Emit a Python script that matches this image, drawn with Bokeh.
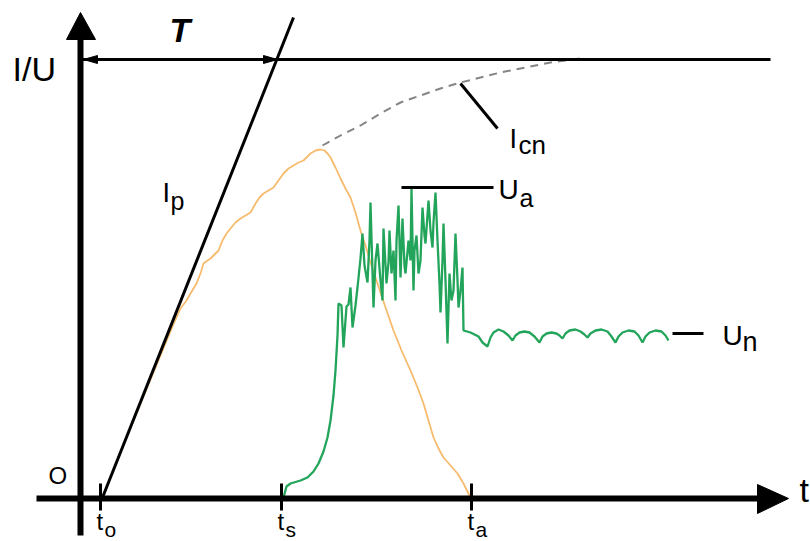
from bokeh.plotting import figure
from bokeh.models import Range1d, ColumnDataSource
from bokeh.embed import file_html
from bokeh.resources import INLINE
from bokeh.core.properties import value

# ---- data (schematic, in picture units: x to the right, y downward) ----
green_x = [283, 286, 290, 300, 307, 313, 318, 323, 327, 330, 333, 335, 337, 338, 341, 343, 346, 348, 350, 352,
           355, 357, 360, 362, 364, 367, 369, 370, 373, 375, 377, 380, 382, 383, 386, 388, 389, 391, 393, 395,
           396, 398, 400, 402, 404, 405, 408, 410, 411, 413, 414, 416, 418, 420, 422, 424, 425, 428, 430, 432,
           433, 435, 437, 439, 440, 442, 443, 445, 447, 449, 451, 453, 455, 457, 458, 460, 462, 463, 470, 478,
           482, 487,
           490, 493, 498, 503, 508, 512,
           515, 519, 524, 529, 534, 539,
           542, 546, 551, 556, 559, 562,
           565, 569, 575, 580, 584, 587,
           590, 595, 601, 607, 611, 615,
           618, 622, 628, 634, 638, 642,
           645, 649, 655, 661, 665, 668]
green_y = [497, 486, 483, 480, 477, 471, 463, 451, 437, 420, 395, 370, 335, 303, 305, 347, 306, 304, 287, 327,
           305, 287, 258, 233, 265, 282, 240, 202, 307, 260, 243, 280, 300, 228, 283, 262, 230, 273, 250, 300,
           240, 205, 277, 218, 265, 273, 240, 260, 188, 290, 250, 235, 273, 260, 207, 235, 243, 200, 230, 247,
           222, 192, 240, 283, 312, 260, 223, 280, 343, 273, 300, 290, 233, 280, 307, 290, 267, 330, 332, 336,
           342, 346,
           337, 332, 329, 331, 335, 340,
           335, 332, 331, 332, 336, 342,
           336, 333, 332, 333, 335, 338,
           333, 330, 329, 331, 334, 337,
           333, 330, 329, 331, 336, 342,
           336, 332, 330, 331, 335, 342,
           336, 332, 330, 331, 335, 340]

orange_x = [102, 120, 140, 160, 172, 180, 186, 190, 196, 200, 203, 207, 210, 214, 218, 222, 226, 230, 235, 240,
            245, 250, 255, 259, 263, 268, 273, 278, 283, 288, 293, 298, 303, 307, 310, 315, 320, 324, 327, 330,
            335, 340, 345, 350, 355, 360, 365, 370, 377, 385, 393, 401, 410, 417, 423, 428, 433, 438, 443, 450,
            457, 463, 470]
orange_y = [497, 452, 403, 355, 326, 308, 300, 293, 283, 273, 263, 260, 258, 254, 250, 240, 233, 228, 222, 218,
            215, 212, 203, 197, 193, 190, 187, 180, 173, 168, 165, 162, 160, 156, 153, 150, 149, 150, 153, 157,
            167, 178, 188, 197, 212, 230, 245, 262, 283, 307, 330, 350, 370, 387, 403, 420, 437, 448, 457, 465,
            473, 483, 497]

icn_x = [322, 340, 360, 380, 400, 420, 440, 460, 480, 500, 525, 550, 580]
icn_y = [145, 135, 125, 113, 102, 95, 88, 82, 77, 72, 67, 62, 58]

ip_x = [102, 293]
ip_y = [497, 17]

tick_x = [100, 281, 471]
tick_labels = ["o", "s", "a"]

level_y = 59          # saturation level line
ua_y = 187            # arc voltage peak level
un_y = 333            # steady voltage level

# ---- figure ----
p = figure(width=810, height=541, output_backend="svg", toolbar_location=None,
           x_range=Range1d(0, 810), y_range=Range1d(541, 0), min_border=0)
p.axis.visible = False
p.grid.visible = False
p.outline_line_color = None
p.background_fill_color = "white"

# curves
p.line(icn_x, icn_y, line_color="#858585", line_width=2, line_dash="8 6")
p.line(orange_x, orange_y, line_color="#f7bb6e", line_width=1.8)
p.line(green_x, green_y, line_color="#23a45b", line_width=2.3)

# Ip ramp line
p.line(ip_x, ip_y, line_color="black", line_width=3)

# axes
p.segment(x0=[80], y0=[535], x1=[80], y1=[30], line_color="black", line_width=6)
p.segment(x0=[36], y0=[498], x1=[765], y1=[498], line_color="black", line_width=6)
p.patch([66, 80, 95], [39, 12, 39], fill_color="black", line_color="black")
p.patch([757, 788, 757], [484, 498, 513], fill_color="black", line_color="black")

# ticks
p.segment(x0=tick_x, y0=[483] * 3, x1=tick_x, y1=[510] * 3, line_color="black", line_width=3)

# level line and T arrow
p.segment(x0=[80], y0=[level_y], x1=[770], y1=[level_y], line_color="black", line_width=3)
p.patch([97, 83, 97], [level_y - 4, level_y, level_y + 4], fill_color="black", line_color="black")
p.patch([263, 277, 263], [level_y - 4, level_y, level_y + 4], fill_color="black", line_color="black")

# leaders
p.segment(x0=[460, 401, 672], y0=[83, ua_y, un_y], x1=[497, 493, 703], y1=[128, ua_y, un_y],
          line_color="black", line_width=3)

# texts
font = value("Liberation Sans")
main = ColumnDataSource(dict(
    x=[12, 48, 799, 96, 277, 467, 162, 509, 498, 722],
    y=[68, 475, 489, 521, 521, 521, 192, 138, 189, 335],
    t=["I/U", "O", "t", "t", "t", "t", "I", "I", "U", "U"],
    s=["34px", "24px", "34px", "24px", "24px", "24px", "27px", "27px", "28px", "28px"],
))
p.text(x="x", y="y", text="t", source=main, text_font=font, text_font_size="s",
       text_align="left", text_baseline="middle", text_color="black")

subs = ColumnDataSource(dict(
    x=[104, 285, 475, 170, 518, 519, 742],
    y=[529, 529, 529, 200, 144, 197, 341],
    t=tick_labels + ["p", "cn", "a", "n"],
    s=["21px", "21px", "21px", "25px", "26px", "25px", "27px"],
))
p.text(x="x", y="y", text="t", source=subs, text_font=font, text_font_size="s",
       text_align="left", text_baseline="middle", text_color="black")

p.text(x=[169], y=[29], text=["T"], text_font=font, text_font_size="34px",
       text_font_style="bold italic", text_align="left", text_baseline="middle", text_color="black")

open("out.html", "w").write(file_html(p, INLINE))
